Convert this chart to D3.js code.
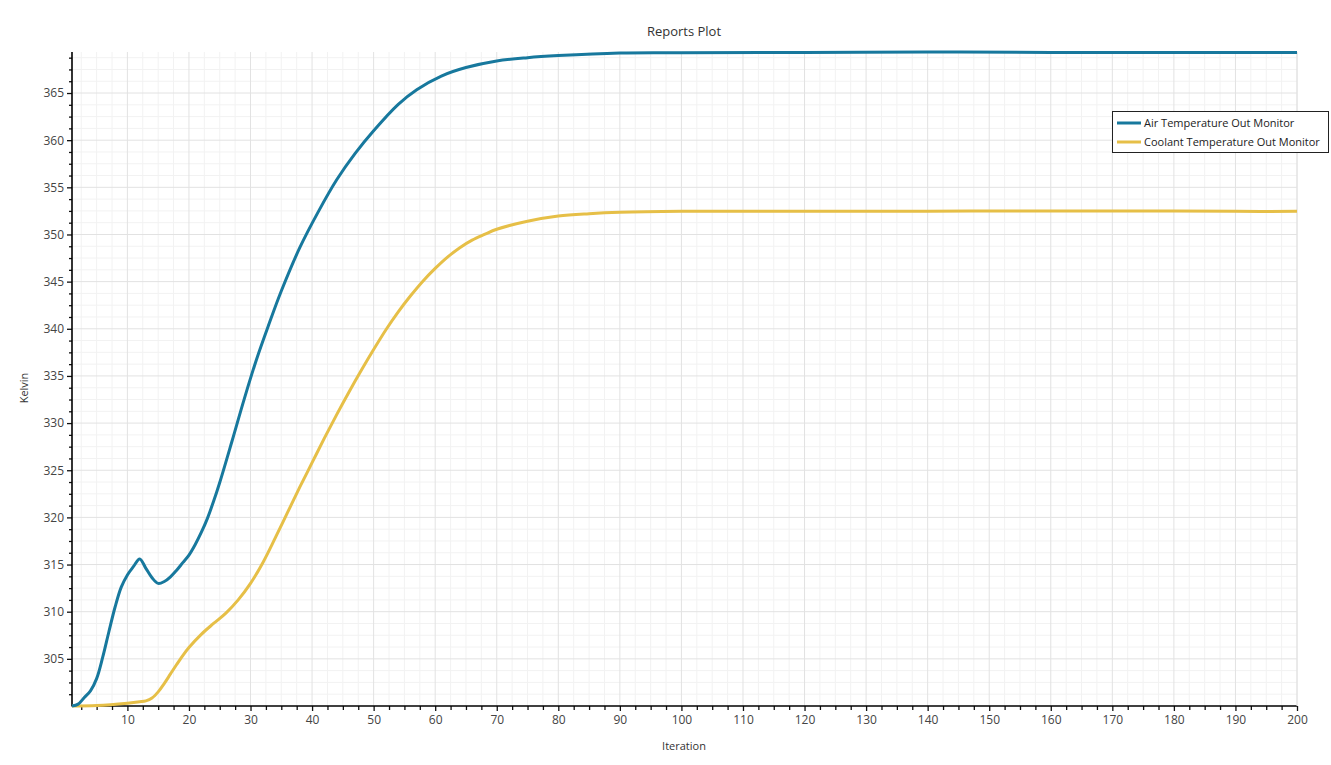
<!DOCTYPE html>
<html><head><meta charset="utf-8">
<script src="https://cdn.jsdelivr.net/npm/d3@7"></script>
<style>body{margin:0;background:#fff;}svg{display:block;font-family:"Open Sans",sans-serif;}</style>
</head><body><svg id="c" width="1331" height="765"></svg>
<script>
const title = "Reports Plot";
const xLabel = "Iteration";
const yLabel = "Kelvin";
const seriesNames = ["Air Temperature Out Monitor", "Coolant Temperature Out Monitor"];
const seriesColors = ["#17789d", "#e6bf47"];

const airIter = [1,2,3,4,5,6,7,8,9,10,11,12,13,14,15,16,17,18,19,20,21,22,23,24,25,27,29,31,33,35,38,41,44,47,50,54,57,61,65,70,75,80,90,100,120,140,160,180,200];
const airTemp = [300.0,300.2,300.9,301.6,302.9,305.2,307.9,310.5,312.6,313.9,314.8,315.6,314.6,313.6,313.0,313.2,313.7,314.4,315.2,316.0,317.1,318.4,319.9,321.7,323.7,328.1,332.6,336.8,340.5,344.0,348.6,352.4,355.8,358.6,361.0,363.8,365.35,366.8,367.7,368.4,368.75,368.97,369.25,369.28,369.31,369.35,369.31,369.3,369.3];

const coolIter = [1,5,10,12,13,14,15,16,17,18,19,20,22,24,26,28,30,32,34,36,38,40,42,44,46,48,50,52,54,56,58,60,62,64,66,68,70,75,80,85,90,100,120,140,160,170,180,190,200];
const coolTemp = [300.0,300.05,300.3,300.45,300.55,300.85,301.5,302.4,303.4,304.4,305.35,306.2,307.6,308.75,309.85,311.25,313.0,315.2,317.8,320.5,323.2,325.8,328.4,330.9,333.3,335.6,337.8,339.9,341.8,343.5,345.05,346.4,347.6,348.6,349.4,350.0,350.55,351.4,351.95,352.2,352.35,352.45,352.45,352.47,352.5,352.5,352.48,352.45,352.45];

const xMajor = d3.range(10, 201, 10);
const yMajor = d3.range(305, 366, 5);

const svg = d3.select("#c");
const m = {l:72, r:1297, t:52, b:706};
const x = d3.scaleLinear().domain([1, 200]).range([m.l, m.r]);
const allVals = airTemp.concat(coolTemp);
const y = d3.scaleLinear().domain(d3.extent(allVals)).range([m.b, m.t]);

const xMinor = d3.range(2.5, 200.01, 2.5).filter(v => v % 10 !== 0 && v >= 1);
const yMinor = d3.range(300, 369.4, 1.25).filter(v => v % 5 !== 0 && v >= y.domain()[0] && v <= y.domain()[1]);

const g = svg.append("g");
g.selectAll(".gxm").data(xMinor).join("line").attr("x1", d=>x(d)).attr("x2", d=>x(d)).attr("y1", m.t).attr("y2", m.b).attr("stroke", "#f2f2f2");
g.selectAll(".gym").data(yMinor).join("line").attr("y1", d=>y(d)).attr("y2", d=>y(d)).attr("x1", m.l).attr("x2", m.r).attr("stroke", "#f2f2f2");
g.selectAll(".gxM").data(xMajor).join("line").attr("x1", d=>x(d)).attr("x2", d=>x(d)).attr("y1", m.t).attr("y2", m.b).attr("stroke", "#e2e2e2");
g.selectAll(".gyM").data(yMajor).join("line").attr("y1", d=>y(d)).attr("y2", d=>y(d)).attr("x1", m.l).attr("x2", m.r).attr("stroke", "#e2e2e2");

const xAxis = d3.axisBottom(x).tickValues(xMajor).tickSize(5).tickPadding(4).tickFormat(d3.format("d"));
const yAxis = d3.axisLeft(y).tickValues(yMajor).tickSize(5).tickPadding(3).tickFormat(d3.format("d"));
const xMinAxis = d3.axisBottom(x).tickValues(xMinor).tickSize(4).tickFormat("");
const yMinAxis = d3.axisLeft(y).tickValues(yMinor).tickSize(3).tickFormat("");

function styleAxis(sel){
  sel.select(".domain").remove();
  sel.selectAll("line").attr("stroke", "#111").attr("stroke-width", 1.3);
  sel.selectAll("text").attr("fill", "#444").style("font-size", "12px").style("font-family", "'Open Sans',sans-serif");
}
svg.append("g").attr("transform", `translate(0,${m.b})`).call(xMinAxis).call(styleAxis);
svg.append("g").attr("transform", `translate(${m.l},0)`).call(yMinAxis).call(styleAxis);
svg.append("g").attr("transform", `translate(0,${m.b})`).call(xAxis).call(styleAxis);
svg.append("g").attr("transform", `translate(${m.l},0)`).call(yAxis).call(styleAxis);

svg.append("line").attr("x1", m.l).attr("x2", m.l).attr("y1", m.t).attr("y2", m.b+0.5).attr("stroke", "#000").attr("stroke-width", 1.6);
svg.append("line").attr("x1", m.l).attr("x2", m.r).attr("y1", m.b).attr("y2", m.b).attr("stroke", "#000").attr("stroke-width", 1.6);
svg.append("line").attr("x1", m.r).attr("x2", m.r).attr("y1", m.t).attr("y2", m.b).attr("stroke", "#e2e2e2");

const line = d3.line().x(d=>x(d[0])).y(d=>y(d[1])).curve(d3.curveCatmullRom.alpha(0.5));
const series = [d3.zip(airIter, airTemp), d3.zip(coolIter, coolTemp)];
svg.selectAll(".series").data([series[1], series[0]]).join("path")
  .attr("d", line).attr("fill", "none")
  .attr("stroke", (d,i)=> i===0 ? seriesColors[1] : seriesColors[0])
  .attr("stroke-width", 3).attr("stroke-linejoin", "round");

svg.append("text").attr("x", 684).attr("y", 36).attr("text-anchor", "middle").attr("fill", "#333").style("font-size", "13px").text(title);
svg.append("text").attr("x", 684).attr("y", 750).attr("text-anchor", "middle").attr("fill", "#333").style("font-size", "11px").text(xLabel);
svg.append("text").attr("transform", "translate(28,388) rotate(-90)").attr("text-anchor", "middle").attr("fill", "#333").style("font-size", "11px").text(yLabel);

const lg = svg.append("g");
lg.append("rect").attr("x", 1112.5).attr("y", 111.5).attr("width", 216).attr("height", 41).attr("fill", "#fff").attr("stroke", "#222").attr("stroke-width", 1);
seriesNames.forEach((n, i) => {
  const yy = 123 + i*19;
  lg.append("line").attr("x1", 1117).attr("x2", 1141).attr("y1", yy).attr("y2", yy).attr("stroke", seriesColors[i]).attr("stroke-width", 3);
  lg.append("text").attr("x", 1144).attr("y", yy + 4).attr("fill", "#222").style("font-size", "11px").text(n);
});
</script></body></html>
